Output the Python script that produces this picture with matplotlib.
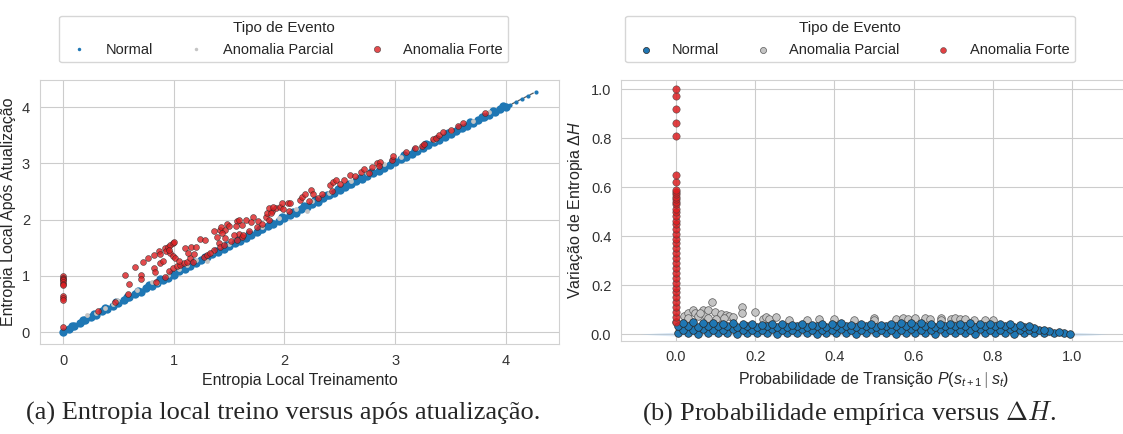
import matplotlib
matplotlib.use('Agg')
import matplotlib.pyplot as plt
from matplotlib.lines import Line2D
import seaborn as sns

# ---- (a) entropia local: treino vs apos atualizacao ----
normal_a_x = [0.00, 0.05, 0.10, 0.15, 0.20, 0.25, 0.30, 0.35, 0.40, 0.45, 0.50, 0.55,
              0.60, 0.65, 0.70, 0.75, 0.80, 0.85, 0.90, 0.95, 1.00, 1.05, 1.10, 1.15,
              1.20, 1.25, 1.30, 1.35, 1.40, 1.45, 1.50, 1.55, 1.60, 1.65, 1.70, 1.75,
              1.80, 1.85, 1.90, 1.95, 2.00, 2.05, 2.10, 2.15, 2.20, 2.25, 2.30, 2.35,
              2.40, 2.45, 2.50, 2.55, 2.60, 2.65, 2.70, 2.75, 2.80, 2.85, 2.90, 2.95,
              3.00, 3.05, 3.10, 3.15, 3.20, 3.25, 3.30, 3.35, 3.40, 3.45, 3.50, 3.55,
              3.60, 3.65, 3.70, 3.75, 3.80, 3.85, 3.90, 3.95, 4.00]
normal_a_y = [0.00, 0.06, 0.11, 0.17, 0.21, 0.27, 0.31, 0.37, 0.42, 0.47, 0.52, 0.57,
              0.62, 0.68, 0.72, 0.78, 0.82, 0.88, 0.93, 0.97, 1.02, 1.08, 1.12, 1.18,
              1.22, 1.28, 1.33, 1.38, 1.42, 1.48, 1.53, 1.58, 1.62, 1.68, 1.73, 1.78,
              1.83, 1.88, 1.92, 1.98, 2.03, 2.08, 2.12, 2.18, 2.23, 2.28, 2.32, 2.38,
              2.43, 2.48, 2.52, 2.58, 2.63, 2.68, 2.72, 2.78, 2.83, 2.87, 2.92, 2.97,
              3.02, 3.07, 3.12, 3.17, 3.22, 3.27, 3.32, 3.37, 3.42, 3.47, 3.52, 3.57,
              3.62, 3.67, 3.72, 3.77, 3.82, 3.86, 3.91, 3.96, 4.00]
# pontos intermediarios da faixa
normal_a2_x = [0.08, 0.18, 0.28, 0.38, 0.48, 0.58, 0.68, 0.78, 0.88, 0.98, 1.08, 1.18,
               1.28, 1.38, 1.48, 1.58, 1.68, 1.78, 1.88, 1.98, 2.08, 2.18, 2.28, 2.38,
               2.48, 2.58, 2.68, 2.78, 2.88, 2.98, 3.08, 3.18, 3.28, 3.38, 3.48, 3.58,
               3.68, 3.78, 3.88, 3.97]
normal_a2_y = [0.11, 0.22, 0.32, 0.43, 0.53, 0.63, 0.74, 0.84, 0.94, 1.04, 1.14, 1.24,
               1.34, 1.44, 1.54, 1.64, 1.74, 1.84, 1.94, 2.04, 2.14, 2.24, 2.34, 2.44,
               2.54, 2.64, 2.74, 2.84, 2.94, 3.04, 3.14, 3.24, 3.34, 3.44, 3.54, 3.63,
               3.73, 3.83, 3.93, 4.01]
# cauda esparsa acima de 4
normal_tail_x = [4.04, 4.09, 4.15, 4.20, 4.27]
normal_tail_y = [4.04, 4.09, 4.15, 4.20, 4.27]

parcial_a_x = [0.22, 0.30, 0.38, 0.45, 0.49, 0.59, 0.67, 0.80, 0.85, 0.95, 1.05, 1.12,
               1.20, 1.30, 1.35, 1.50, 1.62, 1.80, 1.95, 2.10, 2.20, 2.25, 2.40, 2.60,
               2.75, 2.90, 3.05, 3.20, 3.35, 3.50, 3.70, 3.85]
parcial_a_y = [0.31, 0.34, 0.43, 0.50, 0.57, 0.68, 0.75, 0.90, 0.87, 1.02, 1.13, 1.19,
               1.28, 1.26, 1.43, 1.57, 1.70, 1.87, 2.03, 2.18, 2.16, 2.33, 2.48, 2.68,
               2.83, 2.98, 3.12, 3.27, 3.42, 3.57, 3.76, 3.91]

forte_a_x = [0.00, 0.00, 0.00, 0.00, 0.00, 0.00, 0.00, 0.00, 0.00, 0.00, 0.00,
             0.32, 0.47, 0.56, 0.60, 0.59, 0.65, 0.70, 0.70, 0.72, 0.77, 0.82, 0.825,
             0.83, 0.84, 0.865, 0.88, 0.88, 0.90, 0.92, 0.93, 0.95, 0.97, 0.99, 1.00,
             0.97, 0.99, 1.01, 0.955, 0.92, 0.99, 1.03, 1.06, 1.09, 1.12, 1.15, 1.18,
             1.10, 1.16, 1.24, 1.285, 1.20, 1.36, 1.39, 1.42, 1.43, 1.46, 1.48, 1.50,
             1.44, 1.41, 1.46, 1.42, 1.57, 1.59, 1.56, 1.62, 1.65, 1.59, 1.62, 1.57,
             1.72, 1.76, 1.89, 1.92, 1.96, 2.03, 2.05, 2.04, 1.75, 1.83, 1.86, 1.63,
             1.84, 1.86, 1.90, 1.88, 1.975, 1.99, 2.14, 2.16, 2.19, 2.24, 2.22, 2.26,
             2.30, 2.34, 2.41, 2.44, 2.47, 2.50, 2.54, 2.43, 2.59, 2.64, 2.69, 2.72,
             2.76, 2.79, 2.84, 2.86, 2.85, 2.97, 2.98, 3.10, 3.18, 3.24, 3.26, 3.345,
             3.37, 3.40, 3.43, 3.50, 3.57, 3.61, 3.81, 1.27, 1.30, 1.17, 1.36,
             1.52, 1.54, 1.68, 1.70, 1.80, 1.45, 1.33, 1.05, 1.13, 0.96]
forte_a_y = [1.00, 0.97, 0.95, 0.92, 0.89, 0.86, 0.83, 0.65, 0.61, 0.57, 0.09,
             0.37, 0.54, 1.02, 0.86, 0.68, 1.15, 1.02, 0.95, 1.24, 1.31, 1.37, 1.14,
             1.06, 0.90, 1.44, 1.38, 1.22, 1.26, 1.49, 1.45, 1.52, 1.55, 1.58, 1.60,
             1.40, 1.35, 1.32, 1.08, 0.98, 1.14, 1.17, 1.19, 1.22, 1.24, 1.31, 1.38,
             1.50, 1.51, 1.66, 1.64, 1.52, 1.79, 1.69, 1.82, 1.87, 1.82, 1.93, 1.88,
             1.76, 1.58, 1.67, 1.52, 1.98, 2.00, 1.89, 1.90, 1.99, 1.75, 1.69, 1.64,
             2.05, 1.98, 2.16, 2.20, 2.23, 2.30, 2.29, 2.16, 1.86, 2.05, 1.99, 1.73,
             2.11, 2.20, 2.23, 2.11, 2.29, 2.18, 2.35, 2.41, 2.46, 2.52, 2.33, 2.45,
             2.39, 2.45, 2.62, 2.67, 2.70, 2.64, 2.70, 2.50, 2.79, 2.77, 2.85, 2.89,
             2.83, 2.93, 3.01, 3.03, 2.95, 3.05, 3.13, 3.20, 3.27, 3.30, 3.35, 3.43,
             3.45, 3.51, 3.56, 3.60, 3.67, 3.71, 3.90, 1.34, 1.37, 1.25, 1.46,
             1.62, 1.72, 1.80, 1.95, 1.92, 1.55, 1.41, 1.27, 1.40, 1.46]

# ---- (b) probabilidade de transicao vs delta H ----
normal_b_x = [
    # camada inferior
    0.005, 0.030, 0.055, 0.080, 0.105, 0.130, 0.155, 0.180, 0.205, 0.230, 0.255,
    0.280, 0.305, 0.330, 0.355, 0.380, 0.405, 0.430, 0.455, 0.480, 0.505, 0.530,
    0.555, 0.580, 0.605, 0.630, 0.655, 0.680, 0.705, 0.730, 0.755, 0.780, 0.805,
    0.830, 0.855, 0.880, 0.905, 0.930, 0.955, 0.980, 0.995,
    # segunda camada
    0.018, 0.043, 0.068, 0.093, 0.118, 0.143, 0.168, 0.193, 0.218, 0.243, 0.268,
    0.293, 0.318, 0.343, 0.368, 0.393, 0.418, 0.443, 0.468, 0.493, 0.518, 0.543,
    0.568, 0.593, 0.618, 0.643, 0.668, 0.693, 0.718, 0.743, 0.768, 0.793, 0.818,
    0.843, 0.868, 0.893, 0.918, 0.943, 0.968,
    # terceira camada
    0.005, 0.030, 0.055, 0.080, 0.105, 0.130, 0.155, 0.180, 0.205, 0.230, 0.255,
    0.280, 0.305, 0.330, 0.355, 0.380, 0.405, 0.430, 0.455, 0.480, 0.505, 0.530,
    0.555, 0.580, 0.605, 0.630, 0.655, 0.680, 0.705, 0.730, 0.755, 0.780, 0.805,
    0.830, 0.855, 0.880, 0.905, 0.930,
    # topo
    0.018, 0.043, 0.068, 0.093, 0.118, 0.143, 0.168, 0.193, 0.218, 0.243, 0.268,
    0.293, 0.318, 0.343, 0.368, 0.393, 0.418, 0.443, 0.468, 0.493, 0.518, 0.543,
    0.568, 0.593, 0.618, 0.643, 0.668, 0.693, 0.718, 0.743, 0.768, 0.793, 0.818,
    0.843, 0.868, 0.893]
normal_b_y = [
    0.003, 0.005, 0.002, 0.004, 0.003, 0.005, 0.002, 0.004, 0.003, 0.005, 0.002,
    0.004, 0.003, 0.005, 0.002, 0.004, 0.003, 0.005, 0.002, 0.004, 0.003, 0.005,
    0.002, 0.004, 0.003, 0.005, 0.002, 0.004, 0.003, 0.005, 0.002, 0.004, 0.003,
    0.005, 0.002, 0.004, 0.003, 0.004, 0.003, 0.003, 0.002,
    0.018, 0.016, 0.019, 0.017, 0.018, 0.020, 0.016, 0.018, 0.017, 0.019, 0.016,
    0.018, 0.019, 0.017, 0.018, 0.016, 0.019, 0.017, 0.018, 0.020, 0.016, 0.018,
    0.017, 0.019, 0.016, 0.018, 0.019, 0.017, 0.018, 0.016, 0.019, 0.017, 0.018,
    0.020, 0.016, 0.017, 0.015, 0.012, 0.009,
    0.031, 0.033, 0.030, 0.032, 0.031, 0.033, 0.030, 0.032, 0.029, 0.031, 0.030,
    0.028, 0.031, 0.029, 0.032, 0.030, 0.033, 0.031, 0.030, 0.032, 0.029, 0.031,
    0.033, 0.032, 0.034, 0.031, 0.030, 0.032, 0.031, 0.033, 0.030, 0.032, 0.031,
    0.033, 0.029, 0.027, 0.023, 0.018,
    0.046, 0.048, 0.044, 0.046, 0.042, 0.044, 0.041, 0.043, 0.038, 0.040, 0.041,
    0.037, 0.040, 0.036, 0.042, 0.041, 0.044, 0.039, 0.042, 0.040, 0.037, 0.042,
    0.044, 0.046, 0.045, 0.042, 0.040, 0.043, 0.041, 0.044, 0.040, 0.042, 0.043,
    0.041, 0.037, 0.031]

parcial_b_x = [0.000, 0.019, 0.031, 0.044, 0.047, 0.055, 0.069, 0.073, 0.081, 0.090,
               0.099, 0.110, 0.114, 0.127, 0.135, 0.144, 0.167, 0.167, 0.200, 0.219,
               0.227, 0.234, 0.252, 0.286, 0.330, 0.360, 0.400, 0.450, 0.500, 0.500,
               0.556, 0.573, 0.586, 0.603, 0.628, 0.641, 0.669, 0.669, 0.696, 0.705,
               0.717, 0.730, 0.754, 0.781, 0.800, 0.030, 0.060, 0.080, 0.100, 0.120]
parcial_b_y = [0.050, 0.075, 0.084, 0.098, 0.088, 0.073, 0.100, 0.077, 0.097, 0.130,
               0.090, 0.070, 0.080, 0.078, 0.073, 0.070, 0.109, 0.088, 0.091, 0.062,
               0.071, 0.060, 0.068, 0.058, 0.057, 0.060, 0.062, 0.057, 0.066, 0.058,
               0.062, 0.067, 0.060, 0.064, 0.064, 0.060, 0.067, 0.058, 0.060, 0.064,
               0.062, 0.060, 0.058, 0.056, 0.056, 0.065, 0.085, 0.067, 0.062, 0.067]

forte_b_y = [0.05, 0.07, 0.09, 0.11, 0.13, 0.15, 0.17, 0.19, 0.21, 0.23, 0.25, 0.27,
             0.29, 0.31, 0.33, 0.35, 0.37, 0.39, 0.41, 0.43, 0.45, 0.46, 0.48, 0.50,
             0.51, 0.53, 0.54, 0.55, 0.56, 0.57, 0.58, 0.59, 0.62, 0.65, 0.81, 0.86,
             0.92, 0.97, 1.00]
forte_b_x = [0.0] * len(forte_b_y)

# sombra de densidade (kde) sob a faixa normal
kde_x = [-0.09, -0.05, 0.0, 0.5, 1.0, 1.05, 1.09]
kde_h = [0.0, 0.004, 0.008, 0.008, 0.008, 0.004, 0.0]

labels = ["Normal", "Anomalia Parcial", "Anomalia Forte"]
c_normal = "#1f77b4"
c_parcial = "#c4c4c4"
c_forte = "#dc1f22"

sns.set_style("whitegrid")
plt.rcParams['font.family'] = ['Liberation Sans', 'DejaVu Sans']
plt.rcParams['mathtext.fontset'] = 'custom'
plt.rcParams['mathtext.rm'] = 'Liberation Sans'
plt.rcParams['mathtext.it'] = 'Liberation Sans:italic'

fig = plt.figure(figsize=(11.23, 4.34), dpi=100)
ax1 = fig.add_axes([0.0354, 0.2074, 0.4624, 0.6083])
ax2 = fig.add_axes([0.553, 0.215, 0.449, 0.6007])

# painel (a)
ax1.plot([0, 4.27], [0, 4.27], ls='--', color='0.35', lw=0.9, zorder=1)
ax1.scatter(normal_a_x, normal_a_y, s=36, color=c_normal, lw=0, zorder=2)
ax1.scatter(normal_a2_x, normal_a2_y, s=36, color=c_normal, lw=0, zorder=2)
ax1.scatter(normal_tail_x, normal_tail_y, s=9, color=c_normal, lw=0, zorder=2)
ax1.scatter(parcial_a_x, parcial_a_y, s=12, color=c_parcial, lw=0, zorder=2)
ax1.scatter(forte_a_x, forte_a_y, s=18, color=c_forte, alpha=0.8,
            edgecolor='0.15', lw=0.4, zorder=3)
ax1.set_xlim(-0.21, 4.48)
ax1.set_ylim(-0.21, 4.48)
ax1.set_xticks([0, 1, 2, 3, 4])
ax1.set_yticks([0, 1, 2, 3, 4])
ax1.set_xlabel("Entropia Local Treinamento", fontsize=11.5)
ax1.set_ylabel("Entropia Local Após Atualização", fontsize=11.5)

# painel (b)
ax2.fill_between(kde_x, [-v for v in kde_h], kde_h, color='#9ec5e8', alpha=0.35,
                 lw=0, zorder=1)
g2 = ax2.scatter(parcial_b_x, parcial_b_y, s=30, color=c_parcial,
                 edgecolor='0.35', lw=0.5, zorder=2)
g1 = ax2.scatter(normal_b_x, normal_b_y, s=30, color=c_normal,
                 edgecolor='0.15', lw=0.5, zorder=3)
g3 = ax2.scatter(forte_b_x, forte_b_y, s=28, color=c_forte, alpha=0.85,
                 edgecolor='0.25', lw=0.4, zorder=4)
ax2.set_xlim(-0.139, 1.135)
ax2.set_ylim(-0.027, 1.037)
ax2.set_xticks([0.0, 0.2, 0.4, 0.6, 0.8, 1.0])
ax2.set_yticks([0.0, 0.2, 0.4, 0.6, 0.8, 1.0])
ax2.set_xlabel(r"Probabilidade de Transição $P(s_{t+1} \mid s_t)$", fontsize=11.5)
ax2.set_ylabel(r"Variação de Entropia $\mathit{\Delta H}$", fontsize=11.5)

for ax in (ax1, ax2):
    ax.tick_params(labelsize=10.5, colors='0.2')
    for sp in ax.spines.values():
        sp.set_color('0.82')

# legenda (a): marcadores como no grafico original
leg_a = [Line2D([], [], ls='', marker='o', markersize=2.5, color=c_normal, mew=0),
         Line2D([], [], ls='', marker='o', markersize=2.5, color=c_parcial, mew=0),
         Line2D([], [], ls='', marker='o', markersize=4.5, color=c_forte, alpha=0.8,
                markeredgecolor='0.15', mew=0.4)]
fig.legend(leg_a, labels, title="Tipo de Evento", loc='upper center',
           bbox_to_anchor=(0.2525, 0.981), ncol=3, fontsize=10.5,
           title_fontsize=11)
fig.legend([g1, g2, g3], labels, title="Tipo de Evento", loc='upper center',
           bbox_to_anchor=(0.757, 0.981), ncol=3, fontsize=10.5,
           title_fontsize=11, markerscale=0.8)

fig.text(0.252, 0.048, "(a) Entropia local treino versus após atualização.",
         ha='center', va='center', family='Liberation Serif', fontsize=19)
fig.text(0.756, 0.048, r"(b) Probabilidade empírica versus $\Delta H$.",
         ha='center', va='center', family='Liberation Serif', fontsize=19,
         math_fontfamily='cm')

fig.savefig("out.png", dpi=100)
